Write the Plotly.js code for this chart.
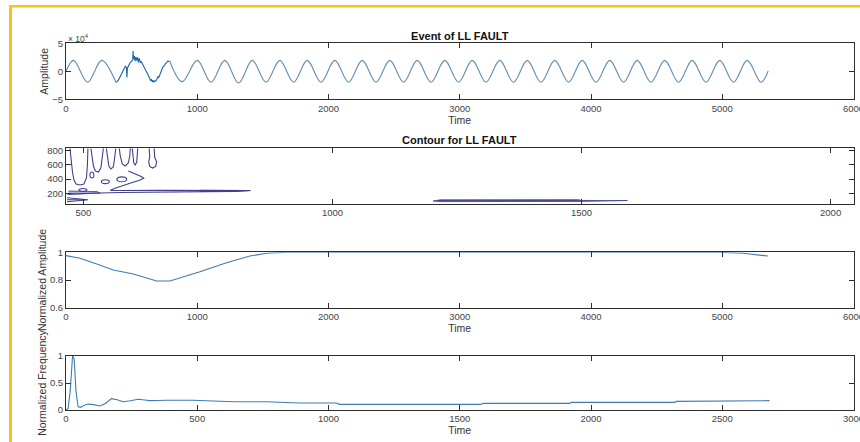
<!DOCTYPE html>
<html><head><meta charset="utf-8">
<script src="https://cdn.plot.ly/plotly-3.0.1.min.js"></script>
<style>html,body{margin:0;padding:0;background:#fff;}#chart{width:860px;height:442px;}</style>
</head><body><div id="chart"></div>
<script>
// ---------- Panel 1: Event of LL FAULT (amplitude shown in units of 10^4) ----------
const eventPreTime = [0, 58, 165, 272, 380];
const eventPreAmp  = [0.05, 1.95, -1.95, 1.95, -1.95];
const eventFaultTime = [380, 392, 404, 416, 428, 440, 452, 460, 464, 468, 476, 488, 500, 508, 511, 515, 521, 527, 533, 539, 546, 552, 559, 566, 574, 584, 596, 608, 620, 630, 638, 645, 651, 657, 663, 669, 676, 684, 692, 700, 707, 714, 722, 732, 742, 750, 758, 766, 774, 782, 790];
const eventFaultAmp  = [-1.95, -1.8, -1.35, -0.8, -0.2, 0.4, 0.9, 0.7, -1.1, 0.6, 1.1, 1.5, 1.8, 2.0, 3.6, 2.2, 2.7, 1.8, 2.6, 1.9, 2.5, 1.6, 2.3, 1.5, 1.7, 1.3, 0.8, 0.2, -0.4, -0.9, -1.2, -1.7, -1.4, -1.9, -1.6, -1.95, -1.7, -1.75, -1.4, -1.0, -1.1, -0.6, -0.2, 0.4, 0.9, 1.0, 1.4, 1.5, 1.8, 1.75, 1.85];
const eventPostTime = [790, 885, 1000, 1105, 1210, 1315, 1419, 1524, 1629, 1734, 1838, 1943, 2048, 2153, 2257, 2362, 2467, 2572, 2676, 2781, 2886, 2991, 3095, 3200, 3305, 3410, 3514, 3619, 3724, 3829, 3933, 4038, 4143, 4248, 4352, 4457, 4562, 4667, 4771, 4876, 4981, 5086, 5190, 5295, 5350];
const eventPostAmp  = [1.85, -1.85, 1.95, -1.95, 1.95, -2.1, 1.95, -1.95, 1.95, -1.95, 1.95, -1.95, 1.95, -1.95, 1.95, -1.95, 1.95, -1.95, 1.95, -1.95, 1.95, -1.95, 1.95, -1.95, 1.95, -1.95, 1.95, -1.95, 1.95, -1.95, 1.95, -1.95, 1.95, -1.95, 1.95, -1.95, 1.95, -1.95, 1.95, -1.95, 1.95, -1.95, 1.95, -1.95, 0.05];

// ---------- Panel 2: Contour for LL FAULT (contour line paths, null = break) ----------
const contourLineX = [473, 475, 478, 481, 485, 493, 501, 506, 508, 509, null,
  515, 517, 520, 524, 530, 535, 537, 539, 540, null,
  546, 548, 551, 555, 560, 562, 564, 565, null,
  572, 574, 578, 584, 590, 593, 594, null,
  598, 599, 601, 604, 607, 608, 609, null,
  632, 633, 631, 633, 639, 645, 647, 643, 642, null,
  590, 598, 608, 616, 621, 614, 598, 578, 562, 554, 570, 654, 734, 805, 835, 805, 734, 654, 574, 534, 503, 467, null,
  467, 509, 467, null, 467, 505, null];
const contourLineY = [834, 669, 500, 388, 331, 317, 331, 416, 599, 834, null,
  834, 697, 585, 514, 500, 556, 669, 782, 834, null,
  834, 697, 585, 542, 570, 669, 810, 834, null,
  834, 725, 613, 585, 627, 725, 834, null,
  834, 711, 627, 599, 641, 739, 834, null,
  834, 711, 641, 578, 556, 578, 641, 711, 834, null,
  514, 493, 465, 437, 412, 388, 352, 310, 268, 242, 240, 242, 244, 246, 239, 228, 225, 218, 211, 204, 197, 190, null,
  137, 109, 81, null, 109, 109, null];
const contourLoopX = [521, 520, 517, 514, 513, 514, 517, 520, 521, null,
  552, 550, 544, 538, 536, 538, 544, 550, 552, null,
  587, 584, 577, 570, 567, 570, 577, 584, 587, null,
  507, 505, 499, 493, 491, 493, 499, 505, 507];
const contourLoopY = [458, 487, 500, 487, 458, 429, 416, 429, 458, null,
  364, 384, 392, 384, 364, 344, 336, 344, 364, null,
  397, 422, 432, 422, 397, 372, 362, 372, 397, null,
  247, 262, 268, 262, 247, 232, 226, 232, 247];
const contourShadeX = [470, 527, 534, 470, null, 734, 805, 835, 805, 734];
const contourShadeY = [232, 225, 204, 183, null, 244, 246, 239, 228, 225];
const contourBandX = [1202, 1216, 1493, 1500, 1554, 1592, 1554, 1493, 1216, 1202];
const contourBandY = [92, 108, 110, 100, 97, 99, 90, 86, 84, 92];

// ---------- Panel 3: Normalized Amplitude ----------
const ampTime = [0, 107, 234, 361, 513, 691, 792, 843, 1020, 1223, 1401, 1528, 1680, 4968, 5159, 5349];
const ampNorm = [0.976, 0.957, 0.916, 0.872, 0.843, 0.793, 0.793, 0.807, 0.86, 0.925, 0.973, 0.993, 1.0, 1.0, 0.993, 0.973];

// ---------- Panel 4: Normalized Frequency ----------
const freqTime = [0, 8, 16, 25, 31, 38, 46, 56, 70, 84, 105, 129, 150, 173, 195, 218, 245, 275, 300, 319, 350, 382, 484, 572, 636, 762, 889, 1029, 1042, 1384, 1581, 1590, 1920, 1925, 2320, 2325, 2580, 2585, 2680];
const freqNorm = [0.0, 0.03, 0.35, 1.0, 0.95, 0.35, 0.06, 0.05, 0.09, 0.11, 0.1, 0.074, 0.12, 0.21, 0.19, 0.154, 0.17, 0.198, 0.185, 0.173, 0.175, 0.18, 0.18, 0.167, 0.154, 0.154, 0.13, 0.13, 0.105, 0.105, 0.105, 0.123, 0.123, 0.142, 0.142, 0.16, 0.16, 0.173, 0.173];

// tick values
const ticksEventX = [0, 1000, 2000, 3000, 4000, 5000, 6000];
const ticksEventY = [-5, 0, 5];
const ticksContourX = [500, 1000, 1500, 2000];
const ticksContourY = [200, 400, 600, 800];
const ticksAmpY = [0.6, 0.8, 1];
const ticksFreqX = [0, 500, 1000, 1500, 2000, 2500, 3000];
const ticksFreqY = [0, 0.5, 1];

const FONT = 'Liberation Sans, Arial, Helvetica, sans-serif';
const W = 860, H = 442;
const px = v => v / W, py = v => 1 - v / H;
const xDom = [px(66), px(853.5)];

function axis(extra) {
  return Object.assign({
    showline: true, linecolor: '#2e2e2e', linewidth: 1, mirror: 'ticks',
    ticks: 'inside', ticklen: 5, tickcolor: '#2e2e2e', tickwidth: 1,
    showgrid: false, zeroline: false,
    tickfont: {family: FONT, size: 9.5, color: '#444'},
    ticklabeloverflow: 'allow',
    tickmode: 'array'
  }, extra);
}
function ttl(text) { return {text: text, font: {family: FONT, size: 10.5, color: '#333'}, standoff: 1}; }

const sigMain = '#5e8db3', sigDark = '#1d66ad', blue = '#3f7bb5', cLine = '#3f418f', cFill = '#aeb0dc';

const traces = [
  {x: eventPreTime, y: eventPreAmp, xaxis: 'x', yaxis: 'y', mode: 'lines', line: {color: sigMain, width: 1.1, shape: 'spline'}},
  {x: eventFaultTime, y: eventFaultAmp, xaxis: 'x', yaxis: 'y', mode: 'lines', line: {color: sigDark, width: 1.1}},
  {x: eventPostTime, y: eventPostAmp, xaxis: 'x', yaxis: 'y', mode: 'lines', line: {color: sigMain, width: 1.1, shape: 'spline'}},
  {x: contourShadeX, y: contourShadeY, xaxis: 'x2', yaxis: 'y2', mode: 'lines', fill: 'toself', fillcolor: cFill, line: {color: cLine, width: 0.8}},
  {x: contourLineX, y: contourLineY, xaxis: 'x2', yaxis: 'y2', mode: 'lines', connectgaps: false, line: {color: cLine, width: 1.1}},
  {x: contourLoopX, y: contourLoopY, xaxis: 'x2', yaxis: 'y2', mode: 'lines', connectgaps: false, line: {color: cLine, width: 1.1, shape: 'spline'}},
  {x: contourBandX, y: contourBandY, xaxis: 'x2', yaxis: 'y2', mode: 'lines', fill: 'toself', fillcolor: '#4b4d97', line: {color: cLine, width: 0.8}},
  {x: ampTime, y: ampNorm, xaxis: 'x3', yaxis: 'y3', mode: 'lines', line: {color: blue, width: 1.1}},
  {x: freqTime, y: freqNorm, xaxis: 'x4', yaxis: 'y4', mode: 'lines', line: {color: blue, width: 1.1}}
];

const layout = {
  width: W, height: H,
  margin: {l: 0, r: 0, t: 0, b: 0},
  paper_bgcolor: '#fff', plot_bgcolor: '#fff',
  showlegend: false,
  font: {family: FONT, color: '#333'},
  title: {text: '<b>Event of LL FAULT</b>', x: px(459.75), xanchor: 'center', y: py(36), yanchor: 'middle', font: {family: FONT, size: 11, color: '#111'}},
  xaxis:  axis({domain: xDom, anchor: 'y',  range: [0, 6000], tickvals: ticksEventX, title: ttl('Time')}),
  yaxis:  axis({domain: [py(99.3), py(43.3)], anchor: 'x', range: [-5, 5], tickvals: ticksEventY, title: ttl('Amplitude')}),
  xaxis2: axis({domain: xDom, anchor: 'y2', range: [465, 2046], tickvals: ticksContourX}),
  yaxis2: axis({domain: [py(203.7), py(148.3)], anchor: 'x2', range: [54, 834], tickvals: ticksContourY}),
  xaxis3: axis({domain: xDom, anchor: 'y3', range: [0, 6000], tickvals: ticksEventX, title: ttl('Time')}),
  yaxis3: axis({domain: [py(307.7), py(252.3)], anchor: 'x3', range: [0.6, 1], tickvals: ticksAmpY, title: ttl('Normalized Amplitude')}),
  xaxis4: axis({domain: xDom, anchor: 'y4', range: [0, 3000], tickvals: ticksFreqX, title: ttl('Time')}),
  yaxis4: axis({domain: [py(410), py(356)], anchor: 'x4', range: [0, 1], tickvals: ticksFreqY, title: ttl('Normalized Frequency')}),
  annotations: [
    {text: '<b>Contour for LL FAULT</b>', xref: 'paper', yref: 'paper', x: px(459.75), y: py(140), xanchor: 'center', yanchor: 'middle', showarrow: false, font: {family: FONT, size: 11, color: '#111'}},
    {text: '× 10<sup>4</sup>', xref: 'paper', yref: 'paper', x: px(66), y: py(38.5), xanchor: 'left', yanchor: 'middle', showarrow: false, font: {family: FONT, size: 8.5, color: '#444'}}
  ],
  shapes: [
    {type: 'line', xref: 'paper', yref: 'paper', x0: px(9), x1: 1, y0: py(6.2), y1: py(6.2), line: {color: '#f8c21b', width: 2.5}},
    {type: 'line', xref: 'paper', yref: 'paper', x0: px(10.5), x1: px(10.5), y0: 0, y1: py(5), line: {color: '#f8c21b', width: 3}}
  ]
};

Plotly.newPlot('chart', traces, layout, {staticPlot: true, displayModeBar: false});
</script></body></html>
